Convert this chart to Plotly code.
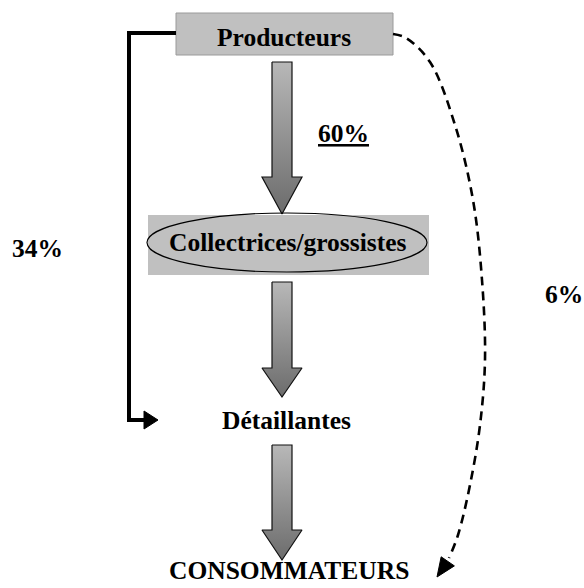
import plotly.graph_objects as go
import math

# ---- data ----
nodes = ["Producteurs", "Collectrices/grossistes", "Détaillantes", "CONSOMMATEURS"]
flow_shares = [60, 34, 6]          # direct-chain, producers->retailers, producers->consumers
flow_labels = [f"{v}%" for v in flow_shares]

# ---- layout geometry (pixel space) ----
W, H = 584, 588
FONT = "Liberation Serif, Times New Roman, serif"
FS = 25.5

node_pos = {  # text centers
    "Producteurs": (284, 37),
    "Collectrices/grossistes": (288, 242),
    "Détaillantes": (286, 420),
    "CONSOMMATEURS": (289, 570),
}
block_arrows = [  # (cx, top, head_base, tip)
    (282, 62, 177, 214),
    (282, 282, 368, 397),
    (282, 445, 530, 560),
]

fig = go.Figure()

def block_arrow(cx, top, base, tip, sw=10, hw=20):
    xs = [cx - sw, cx + sw, cx + sw, cx + hw, cx, cx - hw, cx - sw, cx - sw]
    ys = [top, top, base, base, tip, base, base, top]
    return xs, ys

for cx, top, base, tip in block_arrows:
    xs, ys = block_arrow(cx, top, base, tip)
    fig.add_trace(go.Scatter(
        x=xs, y=ys, mode="lines", fill="toself",
        fillgradient=dict(type="vertical",
                          colorscale=[[0, "#b8b8b8"], [1, "#6c6c6c"]],
                          start=top, stop=tip),
        line=dict(color="#111111", width=1.2),
        hoverinfo="skip", showlegend=False))

shapes = [
    # top box
    dict(type="rect", x0=176, x1=393, y0=13, y1=55, fillcolor="#c0c0c0",
         line=dict(color="#9a9a9a", width=1), layer="below"),
    # middle box
    dict(type="rect", x0=148, x1=429, y0=215, y1=275, fillcolor="#c0c0c0",
         line=dict(width=0), layer="below"),
    # ellipse
    dict(type="circle", x0=147, x1=427, y0=213, y1=272,
         line=dict(color="black", width=1.2), layer="above"),
]

# 34% bracket path
fig.add_trace(go.Scatter(
    x=[176, 129, 129, 147], y=[33, 33, 420, 420], mode="lines",
    line=dict(color="black", width=4), hoverinfo="skip", showlegend=False))
fig.add_trace(go.Scatter(
    x=[144, 158, 144, 144], y=[411, 420, 429, 411], mode="lines", fill="toself",
    fillcolor="black", line=dict(color="black", width=1),
    hoverinfo="skip", showlegend=False))

# 6% dashed curve
cx_ = [393, 406, 430, 455, 473, 482, 485, 480, 470, 458, 449]
cy_ = [34, 38, 62, 125, 200, 280, 360, 425, 485, 535, 558]
fig.add_trace(go.Scatter(
    x=cx_, y=cy_, mode="lines", line=dict(color="black", width=2.6, dash="9px,6px", shape="spline"),
    hoverinfo="skip", showlegend=False))
# arrowhead for dashed curve
tipx, tipy = 437, 577
dx, dy = -11, 16
L = math.hypot(dx, dy); ux, uy = dx / L, dy / L
hl, hw = 19, 8
bx, by = tipx - ux * hl, tipy - uy * hl
px, py = -uy, ux
fig.add_trace(go.Scatter(
    x=[tipx, bx + px * hw, bx - px * hw, tipx],
    y=[tipy, by + py * hw, by - py * hw, tipy],
    mode="lines", fill="toself", fillcolor="black", line=dict(color="black", width=1),
    hoverinfo="skip", showlegend=False))

annotations = []
for name in nodes:
    x, y = node_pos[name]
    annotations.append(dict(x=x, y=y, text=name, showarrow=False, xref="x", yref="y",
                            xanchor="center", yanchor="middle",
                            font=dict(family=FONT, size=FS, color="black", weight="bold")))

label_pos = [(343, 133, True), (37, 248, False), (564, 294, False)]
for lab, (x, y, ul) in zip(flow_labels, label_pos):
    annotations.append(dict(x=x, y=y, text=f"<u>{lab}</u>" if ul else lab, showarrow=False,
                            xref="x", yref="y", xanchor="center", yanchor="middle",
                            font=dict(family=FONT, size=FS, color="black", weight="bold")))

fig.update_layout(
    width=W, height=H, margin=dict(l=0, r=0, t=0, b=0),
    paper_bgcolor="white", plot_bgcolor="white",
    xaxis=dict(range=[0, W], visible=False, fixedrange=True),
    yaxis=dict(range=[H, 0], visible=False, fixedrange=True),
    shapes=shapes, annotations=annotations, showlegend=False,
)
fig.write_html("out.html", config={"displayModeBar": False},
               post_script="document.body.style.margin='0';document.body.style.overflow='hidden';")
